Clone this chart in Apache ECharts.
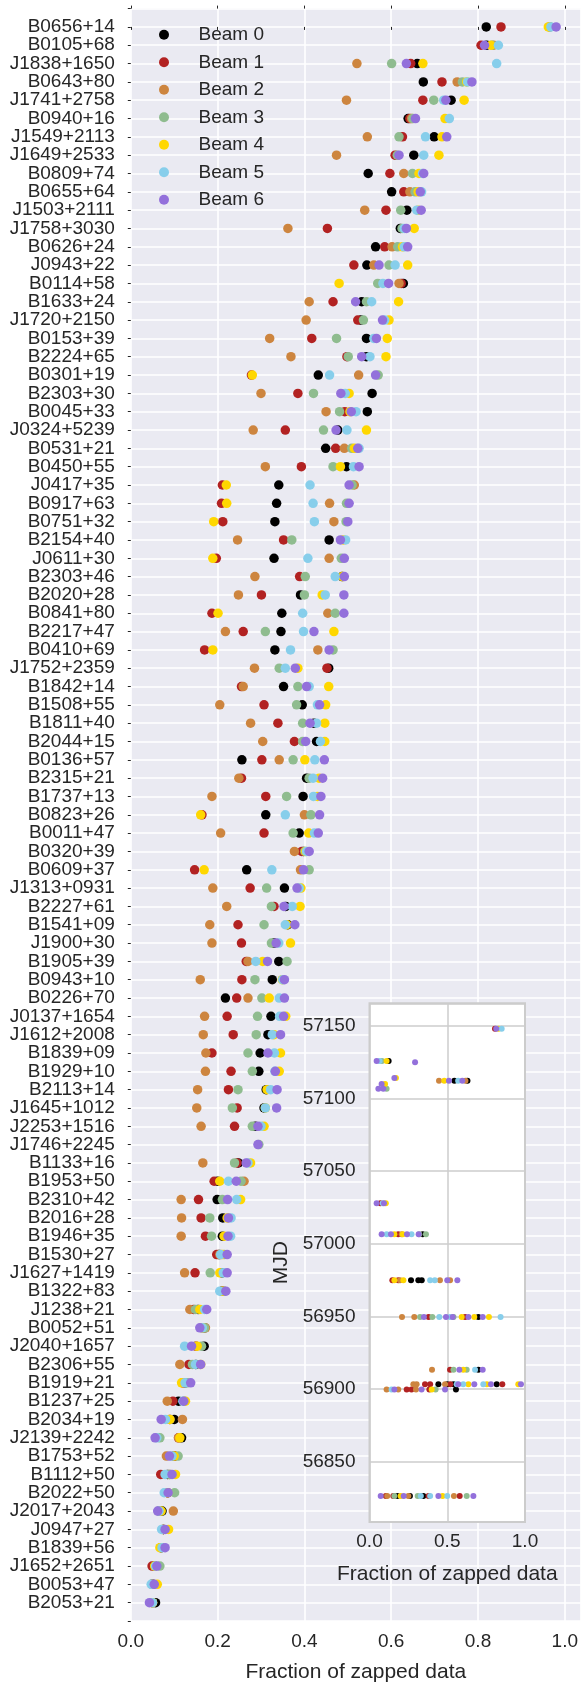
<!DOCTYPE html>
<html>
<head>
<meta charset="utf-8">
<script src="https://cdn.jsdelivr.net/npm/echarts@6/dist/echarts.min.js"></script>
<style>
html,body{margin:0;padding:0;background:#ffffff;}
#chart{width:581px;height:1688px;}
</style>
</head>
<body>
<div id="chart"></div>
<script>
const pulsars = ["B0656+14","B0105+68","J1838+1650","B0643+80","J1741+2758","B0940+16","J1549+2113","J1649+2533","B0809+74","B0655+64",
"J1503+2111","J1758+3030","B0626+24","J0943+22","B0114+58","B1633+24","J1720+2150","B0153+39","B2224+65","B0301+19",
"B2303+30","B0045+33","J0324+5239","B0531+21","B0450+55","J0417+35","B0917+63","B0751+32","B2154+40","J0611+30",
"B2303+46","B2020+28","B0841+80","B2217+47","B0410+69","J1752+2359","B1842+14","B1508+55","B1811+40","B2044+15",
"B0136+57","B2315+21","B1737+13","B0823+26","B0011+47","B0320+39","B0609+37","J1313+0931","B2227+61","B1541+09",
"J1900+30","B1905+39","B0943+10","B0226+70","J0137+1654","J1612+2008","B1839+09","B1929+10","B2113+14","J1645+1012",
"J2253+1516","J1746+2245","B1133+16","B1953+50","B2310+42","B2016+28","B1946+35","B1530+27","J1627+1419","B1322+83",
"J1238+21","B0052+51","J2040+1657","B2306+55","B1919+21","B1237+25","B2034+19","J2139+2242","B1753+52","B1112+50",
"B2022+50","J2017+2043","J0947+27","B1839+56","J1652+2651","B0053+47","B2053+21"];

const beamNames = ["Beam 0","Beam 1","Beam 2","Beam 3","Beam 4","Beam 5","Beam 6"];
const beamColors = ["#000000","#B22222","#CD853F","#8FBC8F","#FFD700","#87CEEB","#9370DB"];

const beam0 = [0.819,0.820,0.660,0.674,0.738,0.639,0.699,0.652,0.547,0.601,
0.636,0.621,0.564,0.544,0.628,0.532,0.530,0.543,0.543,0.432,
0.556,0.545,0.477,0.449,0.497,0.341,0.336,0.332,0.457,0.330,
0.487,0.391,0.348,0.346,0.332,0.456,0.352,0.395,0.422,0.428,
0.256,0.405,0.397,0.311,0.388,0.398,0.267,0.354,0.357,0.362,
0.330,0.341,0.326,0.218,0.323,0.316,0.298,0.295,0.312,0.307,
0.287,null,0.248,0.200,0.199,0.212,0.211,0.203,0.210,0.210,
0.155,0.170,0.169,0.150,0.125,0.110,0.100,0.117,0.100,0.085,
0.085,0.072,0.075,0.070,0.055,0.050,0.057];
const beam1 = [0.853,0.807,0.645,0.717,0.673,0.643,0.626,0.609,0.597,0.629,
0.588,0.453,0.585,0.514,0.623,0.466,0.523,0.417,0.498,0.278,
0.385,0.493,0.356,0.472,0.393,0.211,0.209,0.212,0.352,0.197,
0.389,0.301,0.187,0.259,0.170,0.452,0.255,0.307,0.339,0.377,
0.302,0.255,0.311,0.164,0.307,0.394,0.147,0.275,0.330,0.247,
0.255,0.266,0.256,0.244,0.222,0.236,0.187,0.231,0.225,0.245,
0.239,null,0.245,0.192,0.156,0.162,0.172,0.198,0.148,0.210,
0.145,0.165,0.150,0.134,0.120,0.097,0.090,0.110,0.100,0.069,
0.085,0.065,0.075,0.070,0.049,0.050,0.050];
const beam2 = [0.965,0.836,0.521,0.752,0.497,0.647,0.545,0.474,0.629,0.643,
0.539,0.362,0.602,0.560,0.618,0.411,0.404,0.320,0.369,0.525,
0.300,0.450,0.282,0.492,0.310,0.515,0.458,0.468,0.246,0.457,
0.286,0.248,0.454,0.218,0.431,0.285,0.259,0.205,0.276,0.304,
0.342,0.249,0.187,0.400,0.207,0.377,0.391,0.189,0.221,0.182,
0.187,0.270,0.160,0.270,0.170,0.167,0.173,0.172,0.154,0.152,
0.162,null,0.166,0.261,0.116,0.117,0.116,0.205,0.124,0.215,
0.136,0.172,0.150,0.113,0.120,0.084,0.119,0.110,0.082,0.090,
0.085,0.098,0.075,0.070,0.055,0.050,0.050];
const beam3 = [0.966,0.832,0.601,0.764,0.698,0.650,0.618,0.614,0.649,0.655,
0.622,0.625,0.615,0.595,0.569,0.543,0.536,0.474,0.501,0.570,
0.421,0.481,0.444,0.509,0.466,0.510,0.497,0.496,0.371,0.485,
0.402,0.400,0.471,0.310,0.466,0.342,0.385,0.382,0.396,0.396,
0.374,0.411,0.359,0.415,0.374,0.401,0.411,0.313,0.324,0.307,
0.324,0.360,0.286,0.302,0.292,0.289,0.270,0.280,0.247,0.234,
0.280,0.295,0.239,0.254,0.211,0.182,0.186,0.215,0.183,0.215,
0.149,0.170,0.163,0.142,0.130,0.123,0.090,0.067,0.109,0.090,
0.101,0.065,0.075,0.070,0.067,0.050,0.050];
const beam4 = [0.962,0.830,0.673,0.774,0.768,0.724,0.717,0.710,0.664,0.662,
0.662,0.653,0.626,0.638,0.480,0.617,0.595,0.591,0.588,0.280,
0.503,0.505,0.543,0.515,0.483,0.220,0.221,0.191,0.490,0.189,
0.488,0.441,0.201,0.468,0.189,0.385,0.456,0.449,0.447,0.447,
0.401,0.434,0.430,0.161,0.410,0.403,0.169,0.392,0.390,0.360,
0.368,0.304,0.349,0.319,0.357,0.330,0.345,0.342,0.314,0.310,
0.307,null,0.276,0.205,0.253,0.222,0.215,0.210,0.205,0.210,
0.159,0.165,0.153,0.161,0.117,0.126,0.090,0.113,0.100,0.103,
0.085,0.070,0.087,0.067,0.055,0.061,0.050];
const beam5 = [0.968,0.847,0.843,0.776,0.721,0.734,0.679,0.675,0.672,0.670,
0.659,0.630,0.630,0.609,0.581,0.555,0.585,0.560,0.551,0.458,
0.494,0.519,0.498,0.526,0.513,0.413,0.420,0.423,0.495,0.408,
0.471,0.448,0.396,0.398,0.368,0.356,0.411,0.430,0.428,0.437,
0.424,0.420,0.421,0.356,0.423,0.405,0.325,0.388,0.372,0.356,
0.341,0.288,0.350,0.342,0.343,0.326,0.331,0.332,0.322,0.310,
0.300,null,0.270,0.225,0.244,0.231,0.230,0.207,0.213,0.205,
0.170,0.165,0.124,0.149,0.125,0.120,0.080,0.060,0.095,0.079,
0.077,0.065,0.071,0.072,0.057,0.047,0.050];
const beam6 = [0.980,0.815,0.635,0.786,0.726,0.656,0.728,0.618,0.675,0.667,
0.669,0.635,0.638,0.572,0.594,0.518,0.580,0.566,0.532,0.564,
0.484,0.508,0.473,0.523,0.526,0.503,0.503,0.500,0.483,0.492,
0.492,0.491,0.491,0.422,0.457,0.379,0.405,0.435,0.413,0.403,
0.446,0.442,0.438,0.435,0.432,0.411,0.398,0.383,0.353,0.378,
0.335,0.315,0.354,0.354,0.352,0.345,0.316,0.333,0.337,0.336,
0.293,0.293,0.266,0.243,0.223,0.225,0.224,0.222,0.222,0.219,
0.175,0.159,0.140,0.161,0.138,0.122,0.070,0.056,0.089,0.095,
0.086,0.062,0.079,0.079,0.060,0.054,0.043];

// inset: [fraction, MJD]
const inset0 = [[0.123,57125.9],[0.546,57112.3],[0.63,57112.3],[0.342,57006.6],[0.267,56974.9],[0.314,56974.9],[0.336,56974.9],[0.70,56949.6],[0.70,56913.3],[0.443,56903.3],[0.50,56903.3],[0.54,56903.3],[0.818,56903.3],[0.556,56899.8],[0.18,56826.4],[0.26,56826.4],[0.346,56826.4]];
const inset1 = [[0.807,57148.1],[0.07,57027.9],[0.185,57006.6],[0.147,56974.9],[0.185,56974.9],[0.38,56949.6],[0.615,56949.6],[0.518,56913.3],[0.357,56903.3],[0.39,56903.3],[0.52,56903.3],[0.854,56903.3],[0.239,56899.8],[0.27,56899.8],[0.385,56899.8],[0.105,56826.4],[0.153,56826.4],[0.38,56826.4],[0.58,56826.4]];
const inset2 = [[0.447,57112.3],[0.617,57112.3],[0.207,57006.6],[0.196,56974.9],[0.453,56974.9],[0.518,56974.9],[0.209,56949.6],[0.288,56949.6],[0.402,56913.3],[0.282,56903.3],[0.303,56903.3],[0.486,56903.3],[0.11,56899.8],[0.185,56899.8],[0.299,56899.8],[0.114,56826.4],[0.25,56826.4],[0.543,56826.4]];
const inset3 = [[0.08,57125.9],[0.11,57106.8],[0.32,57006.6],[0.363,57006.6],[0.325,56949.6],[0.404,56949.6],[0.54,56949.6],[0.54,56913.3],[0.625,56913.3],[0.425,56899.8],[0.16,56826.4],[0.31,56826.4],[0.625,56826.4]];
const inset4 = [[0.83,57148.1],[0.11,57125.9],[0.17,57114.2],[0.481,57112.3],[0.10,57110],[0.105,57027.9],[0.16,57006.6],[0.214,57006.6],[0.16,56974.9],[0.218,56974.9],[0.593,56949.6],[0.674,56949.6],[0.768,56949.6],[0.603,56913.3],[0.636,56903.3],[0.755,56903.3],[0.957,56903.3],[0.40,56899.8],[0.2,56826.4],[0.47,56826.4]];
const inset5 = [[0.85,57148.1],[0.065,57125.9],[0.57,57112.3],[0.085,57027.9],[0.11,57006.6],[0.27,57006.6],[0.39,56974.9],[0.42,56974.9],[0.449,56949.6],[0.518,56949.6],[0.843,56949.6],[0.679,56913.3],[0.561,56903.3],[0.603,56903.3],[0.732,56903.3],[0.142,56899.8],[0.33,56826.4],[0.39,56826.4],[0.50,56826.4]];
const inset6 = [[0.815,57148.1],[0.046,57125.9],[0.293,57125.0],[0.16,57114.2],[0.511,57112.3],[0.597,57112.3],[0.078,57110],[0.057,57106.8],[0.089,57106.8],[0.046,57027.9],[0.093,57027.9],[0.078,57006.6],[0.138,57006.6],[0.241,57006.6],[0.316,57006.6],[0.50,56974.9],[0.565,56974.9],[0.35,56949.6],[0.492,56949.6],[0.535,56949.6],[0.636,56949.6],[0.728,56949.6],[0.578,56913.3],[0.728,56913.3],[0.571,56903.3],[0.674,56903.3],[0.781,56903.3],[0.974,56903.3],[0.16,56899.8],[0.335,56899.8],[0.486,56899.8],[0.072,56826.4],[0.22,56826.4],[0.443,56826.4],[0.668,56826.4]];

const beams = [beam0,beam1,beam2,beam3,beam4,beam5,beam6];
const insets = [inset0,inset1,inset2,inset3,inset4,inset5,inset6];

const FONT = '"Liberation Sans", Arial, sans-serif';
const TXT = '#262626';

const series = [];
beams.forEach((arr, b) => {
  const data = [];
  arr.forEach((v, i) => { if (v !== null) data.push([v, i]); });
  series.push({
    name: beamNames[b], type: 'scatter', xAxisIndex: 0, yAxisIndex: 0,
    symbol: 'circle', symbolSize: 9.5, z: 2,
    itemStyle: { color: beamColors[b], opacity: 1 },
    data: data
  });
});
insets.forEach((arr, b) => {
  series.push({
    name: beamNames[b], type: 'scatter', xAxisIndex: 2, yAxisIndex: 1,
    symbol: 'circle', symbolSize: 6, z: 6,
    itemStyle: { color: beamColors[b], opacity: 1 },
    data: arr
  });
});

const chart = echarts.init(document.getElementById('chart'), null, { renderer: 'canvas' });
chart.setOption({
  animation: false,
  backgroundColor: '#ffffff',
  textStyle: { fontFamily: FONT, color: TXT },
  grid: [
    { left: 130.8, top: 8.6, right: 0, bottom: 64, show: true, backgroundColor: '#EAEAF2', borderWidth: 0, z: 0 },
    { left: 369.5, top: 1003.3, width: 155.5, height: 518.7, show: true, backgroundColor: '#ffffff', borderColor: '#cccccc', borderWidth: 2, z: 3 }
  ],
  legend: {
    data: beamNames, orient: 'vertical', left: 154, top: 19.8,
    icon: 'circle', itemWidth: 59, itemHeight: 10, itemGap: 7.5,
    textStyle: { fontFamily: FONT, fontSize: 19, color: TXT, lineHeight: 20 },
    selectedMode: false
  },
  xAxis: [
    { type: 'value', gridIndex: 0, min: 0, max: 1.037, interval: 0.2,
      axisLine: { show: false },
      axisTick: { show: true, length: 3, lineStyle: { color: TXT, width: 1 } },
      splitLine: { show: true, lineStyle: { color: '#ffffff', width: 1.6 } },
      axisLabel: { fontFamily: FONT, fontSize: 19, color: TXT, margin: 11, showMaxLabel: false,
        formatter: v => (Math.abs(v * 5 - Math.round(v * 5)) < 1e-6 ? v.toFixed(1) : '') },
      name: 'Fraction of zapped data', nameLocation: 'middle', nameGap: 41,
      nameTextStyle: { fontFamily: FONT, fontSize: 21, color: TXT } },
    { type: 'value', gridIndex: 0, position: 'top', min: 0, max: 1.037, interval: 0.2,
      axisLine: { show: false },
      axisTick: { show: true, length: 3, lineStyle: { color: TXT, width: 1 } },
      splitLine: { show: false }, axisLabel: { show: false } },
    { type: 'value', gridIndex: 1, min: 0, max: 1, interval: 0.5, z: 4,
      axisLine: { show: false }, axisTick: { show: false },
      splitLine: { show: true, lineStyle: { color: '#cccccc', width: 1.5 } },
      axisLabel: { fontFamily: FONT, fontSize: 19, color: TXT, margin: 10, formatter: v => v.toFixed(1) },
      name: 'Fraction of zapped data', nameLocation: 'middle', nameGap: 42,
      nameTextStyle: { fontFamily: FONT, fontSize: 21, color: TXT } }
  ],
  yAxis: [
    { type: 'value', gridIndex: 0, min: -1, max: 87, interval: 1, inverse: true,
      axisLine: { show: false },
      axisTick: { show: true, length: 3, lineStyle: { color: TXT, width: 1 } },
      splitLine: { show: true, lineStyle: { color: '#ffffff', width: 1.6 } },
      axisLabel: { fontFamily: FONT, fontSize: 19, color: TXT, margin: 16,
        formatter: v => (pulsars[v] !== undefined ? pulsars[v] : '') } },
    { type: 'value', gridIndex: 1, min: 56808.5, max: 57165.6, splitNumber: 7, z: 4,
      axisLine: { show: false }, axisTick: { show: false },
      splitLine: { show: true, lineStyle: { color: '#cccccc', width: 1.5 } },
      axisLabel: { fontFamily: FONT, fontSize: 19, color: TXT, margin: 14, showMinLabel: false, showMaxLabel: false,
        formatter: v => (Math.abs(v % 50) < 1e-6 ? String(v) : '') },
      name: 'MJD', nameLocation: 'middle', nameGap: 78, nameRotate: 90,
      nameTextStyle: { fontFamily: FONT, fontSize: 21, color: TXT } }
  ],
  series: series
});
</script>
</body>
</html>
